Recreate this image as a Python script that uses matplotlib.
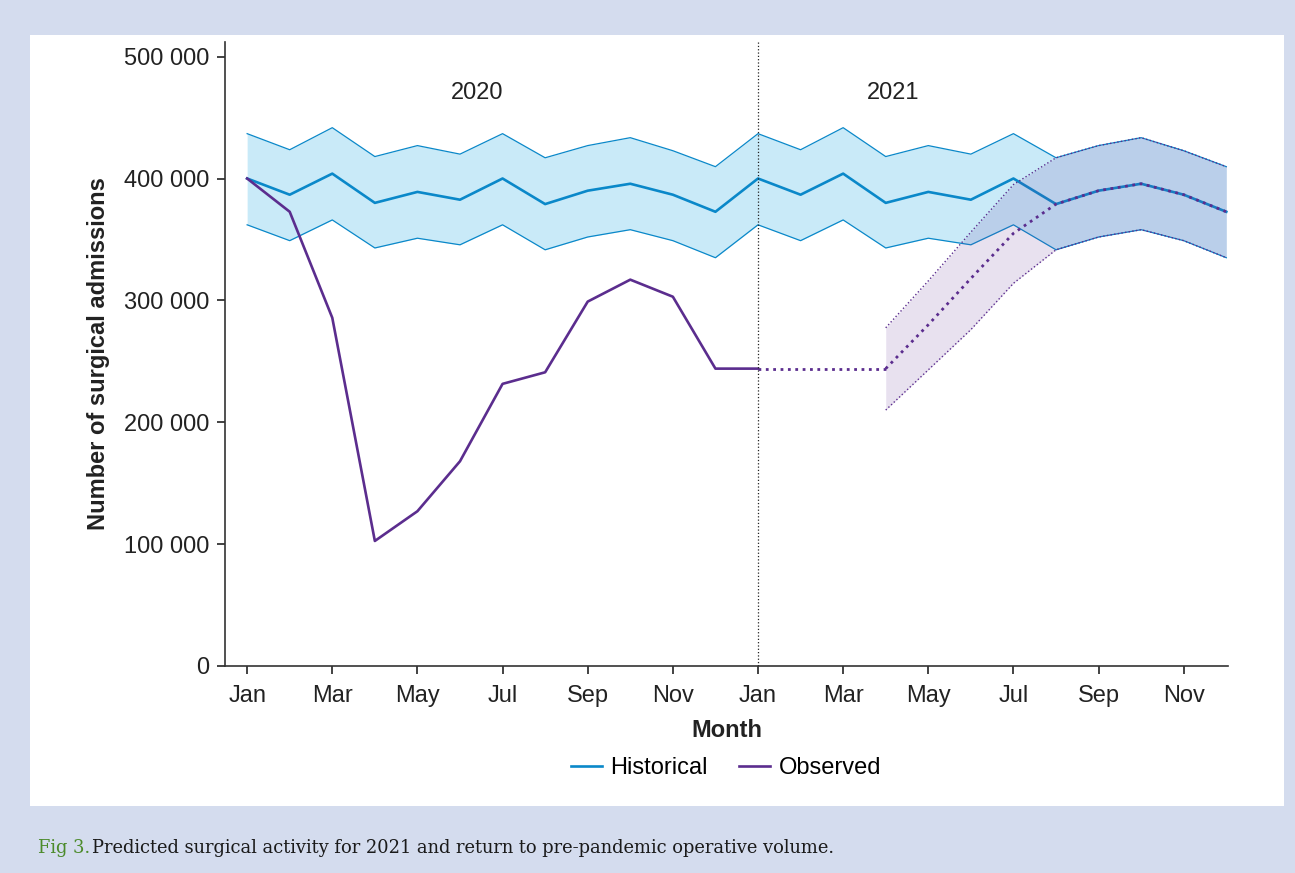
import numpy as np
import matplotlib
matplotlib.use('Agg')
import matplotlib.pyplot as plt
from matplotlib.patches import Rectangle
from matplotlib.ticker import FuncFormatter

#data
#============================================================
month_names = ['Jan', 'Feb', 'Mar', 'Apr', 'May', 'Jun', 'Jul', 'Aug', 'Sep', 'Oct', 'Nov', 'Dec']

hist_mean_year = [400000, 386700, 404000, 380000, 389000, 382600, 400000, 379000, 390000, 395700, 386700, 372700]
hist_upper_year = [436800, 423600, 441700, 418000, 427000, 420000, 436800, 417000, 427000, 433500, 422800, 409700]
hist_lower_year = [362000, 349000, 366000, 343000, 351000, 345600, 362000, 341500, 352000, 358000, 349000, 335000]

# the historical pattern is the same for 2020 and 2021
hist_mean = hist_mean_year + hist_mean_year
hist_upper = hist_upper_year + hist_upper_year
hist_lower = hist_lower_year + hist_lower_year

# observed Jan 2020 - Jan 2021
observed = [400000, 372700, 285700, 102600, 127000, 168000, 231500, 241000, 299000, 317000, 303000, 244000, 244000]

# flat carry-over Jan 2021 - Apr 2021
carry_months = [12, 13, 14, 15]
carry = [244000, 244000, 244000, 244000]

# projection Apr 2021 - Dec 2021
proj_months = [15, 16, 17, 18, 19, 20, 21, 22, 23]
proj_mean = [244000, 280000, 318000, 355000, 379000, 390000, 395700, 386700, 372700]
proj_upper = [277500, 316000, 356000, 395000, 417000, 427000, 433500, 422800, 409700]
proj_lower = [210000, 243000, 276000, 314000, 341500, 352000, 358000, 349000, 335000]
#============================================================

blue = '#0A88C9'
blue_fill = '#C9EAF8'
purple = '#5B2D8E'

plt.rcParams['font.family'] = ['Liberation Sans', 'DejaVu Sans']

fig = plt.figure(figsize=(12.95, 8.73), dpi=100)
fig.patch.set_facecolor('#D4DCEE')
fig.patches.append(Rectangle((30 / 1295, 1 - 806 / 873), (1284 - 30) / 1295, (806 - 35) / 873,
                             transform=fig.transFigure, facecolor='white', edgecolor='none', zorder=-10))

ax = fig.add_axes([225 / 1295, 1 - 666 / 873, (1228 - 225) / 1295, (666 - 42) / 873])
ax.set_facecolor('none')

months = np.arange(len(hist_mean))

#historical
ax.fill_between(months, hist_lower, hist_upper, color=blue_fill, linewidth=0, zorder=1)
ax.plot(months, hist_upper, color=blue, linewidth=0.9, zorder=2)
ax.plot(months, hist_lower, color=blue, linewidth=0.9, zorder=2)
ax.plot(months, hist_mean, color=blue, linewidth=1.9, zorder=2, label='Historical')

#observed
ax.plot(np.arange(len(observed)), observed, color=purple, linewidth=1.9, zorder=3, label='Observed')
ax.plot(carry_months, carry, color=purple, linewidth=2.0, linestyle=':', zorder=3)

#projection
ax.fill_between(proj_months, proj_lower, proj_upper, color='#6A3A9A', alpha=0.15, linewidth=0, zorder=2.5)
ax.plot(proj_months, proj_upper, color=purple, linewidth=1.0, linestyle=':', zorder=3)
ax.plot(proj_months, proj_lower, color=purple, linewidth=1.0, linestyle=':', zorder=3)
ax.plot(proj_months, proj_mean, color=purple, linewidth=2.0, linestyle=':', zorder=3)

ax.axvline(12, color='#222222', linewidth=0.9, linestyle=':', zorder=4)

ax.text(5.4, 470000, '2020', fontsize=17, ha='center', va='center', color='#222222')
ax.text(15.17, 470000, '2021', fontsize=17, ha='center', va='center', color='#222222')

ax.set_xlim(-0.52, 23.04)
ax.set_ylim(0, 512000)

tick_pos = list(range(0, 24, 2))
ax.set_xticks(tick_pos)
ax.set_xticklabels([month_names[p % 12] for p in tick_pos])
ax.set_yticks([0, 100000, 200000, 300000, 400000, 500000])
ax.yaxis.set_major_formatter(FuncFormatter(lambda v, p: '{:,}'.format(int(v)).replace(',', ' ')))

ax.tick_params(axis='both', labelsize=17, colors='#222222', length=6, width=1.2)
ax.tick_params(axis='x', pad=8)
ax.tick_params(axis='y', pad=5)
for side in ['top', 'right']:
    ax.spines[side].set_visible(False)
for side in ['left', 'bottom']:
    ax.spines[side].set_linewidth(1.2)
    ax.spines[side].set_color('#333333')

ax.set_xlabel('Month', fontsize=17, fontweight='bold', color='#222222', labelpad=8)
ax.set_ylabel('Number of surgical admissions', fontsize=17, fontweight='bold', color='#222222', labelpad=10)

ax.legend(loc='center', bbox_to_anchor=(726 / 1295, 1 - 768 / 873), bbox_transform=fig.transFigure,
          ncol=2, frameon=False, fontsize=17, handlelength=1.3, columnspacing=1.35, handletextpad=0.35)

#caption
fig.text(38 / 1295, 1 - 848 / 873, 'Fig 3.', fontsize=12.9, color='#4C8B2B', family='DejaVu Serif', va='center')
fig.text(92 / 1295, 1 - 848 / 873, 'Predicted surgical activity for 2021 and return to pre-pandemic operative volume.',
         fontsize=12.9, color='#1A1A1A', family='DejaVu Serif', va='center')

fig.savefig('out.png', dpi=100, facecolor=fig.get_facecolor())
